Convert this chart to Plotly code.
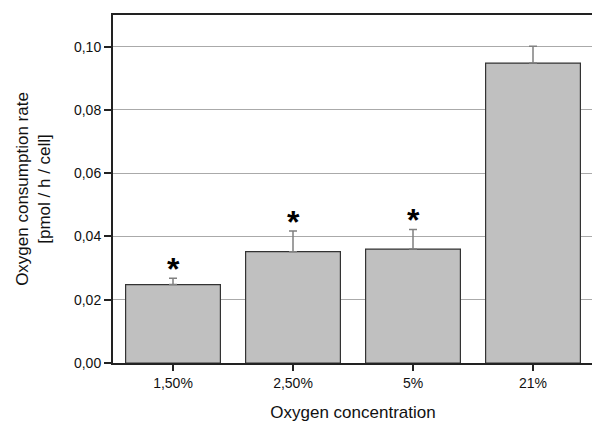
import plotly.graph_objects as go

categories = ["1,50%", "2,50%", "5%", "21%"]
rates = [0.0248, 0.0352, 0.0360, 0.0948]
errors = [0.0020, 0.0065, 0.0062, 0.0053]
significant = [True, True, True, False]

fig = go.Figure()
fig.add_trace(go.Bar(
    x=categories, y=rates, width=0.79,
    marker=dict(color="#c0c0c0", line=dict(color="#333333", width=1.2)),
    error_y=dict(type="data", array=errors, arrayminus=[0]*len(errors), symmetric=False,
                 color="#808080", thickness=1.5, width=4),
))

for c, v, e, s in zip(categories, rates, errors, significant):
    if s:
        fig.add_annotation(x=c, y=v + e, text="<b>*</b>", showarrow=False,
                           yanchor="bottom", yshift=-11,
                           font=dict(family="Liberation Sans, Arial", size=32, color="black"))

# page body has an 8px default margin, so the figure is offset by 8px
fig.update_layout(
    width=592, height=420,
    margin=dict(l=105, r=5, t=7, b=65),
    plot_bgcolor="white", paper_bgcolor="white",
    separators=",.",
    showlegend=False,
    font=dict(family="Liberation Sans, Arial", color="#111111"),
)
fig.update_xaxes(
    range=[-0.5, 3.5], showline=True, linecolor="#222222", linewidth=2, mirror=True,
    ticks="outside", ticklen=6, tickcolor="#222222", tickwidth=1.5,
    tickfont=dict(size=14),
    title=dict(text="Oxygen concentration", font=dict(size=17), standoff=16),
)
fig.update_yaxes(
    range=[0, 0.11], tickvals=[0, 0.02, 0.04, 0.06, 0.08, 0.10], tickformat=".2f",
    showline=True, linecolor="#222222", linewidth=2, mirror=True,
    ticks="outside", ticklen=7, tickcolor="#222222", tickwidth=1.5,
    showgrid=True, gridcolor="#aaaaaa", gridwidth=1, zeroline=False,
    tickfont=dict(size=14),
    title=dict(text="Oxygen consumption rate<br>[pmol / h / cell]", font=dict(size=17), standoff=19),
)

fig.write_html("out.html")
